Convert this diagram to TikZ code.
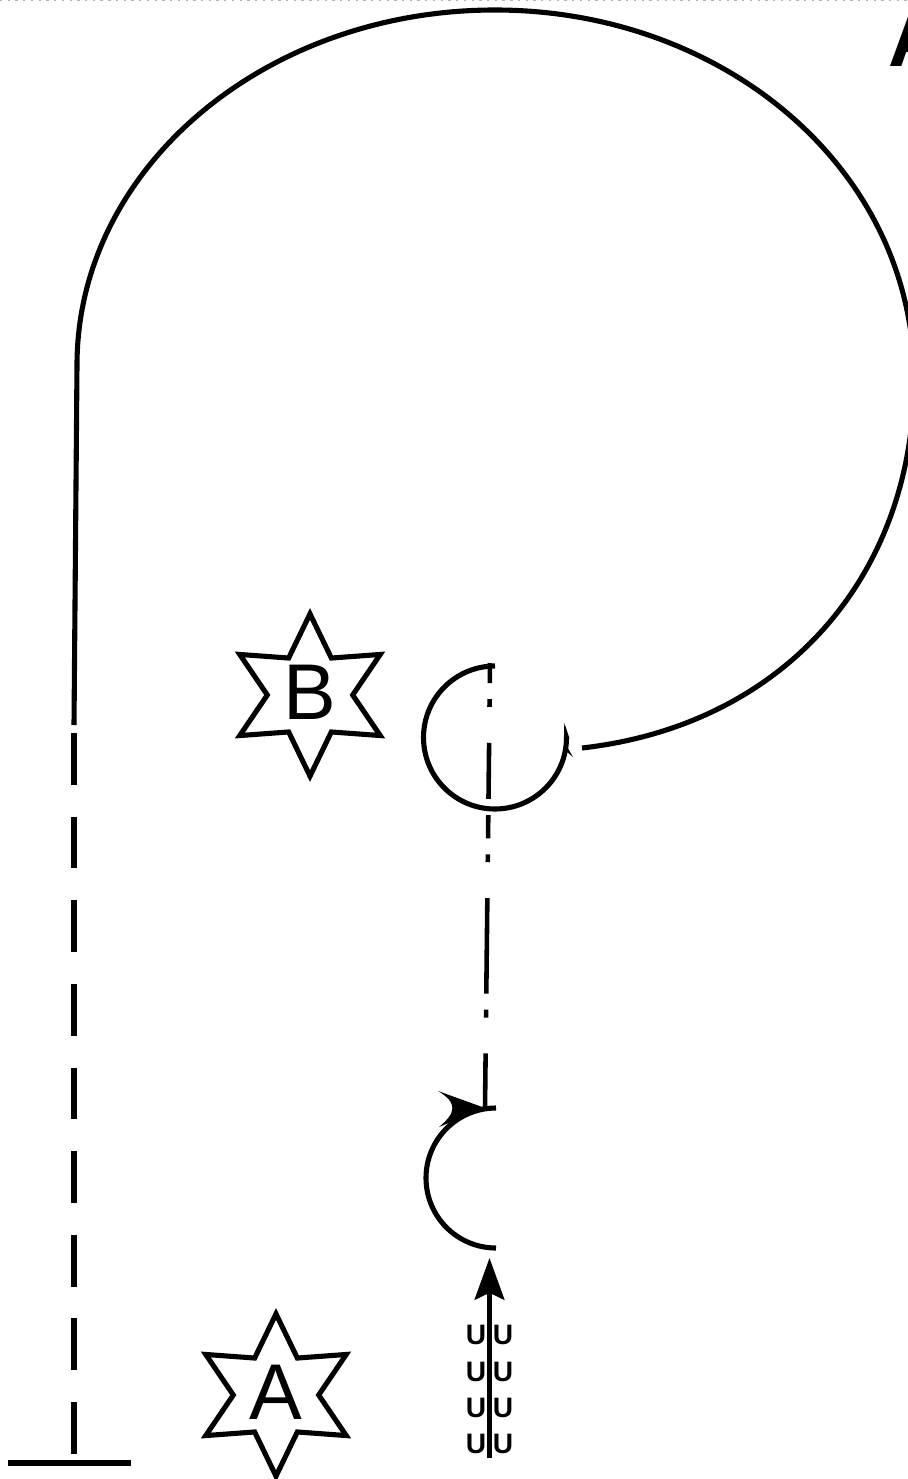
\documentclass[tikz,border=0pt]{standalone}
\usepackage{fontspec}
\setmainfont{Liberation Sans}
\usetikzlibrary{arrows.meta,shapes.geometric}
\tikzset{
  wire/.style={black, line width=2.9pt},
  gnd/.style={black, line width=3pt},
  dashwire/.style={wire, dash pattern=on 29.5pt off 18.1pt},
  dotwire/.style={black, line width=2.6pt, dash pattern=on 54.4pt off 9.1pt on 4.5pt off 20.4pt, dash phase=43pt},
  upstar/.style={star, star points=6, star point ratio=1.9, draw, line width=2.9pt, inner sep=0pt,
                 minimum size=91.8pt, text depth=3.4pt, font=\fontsize{45}{45}\selectfont},
  ulab/.style={inner sep=0pt, font=\bfseries\fontsize{16}{16}\selectfont},
  uparr/.style={-{Stealth[length=23.8pt, width=17pt, inset=4pt]}, line width=2.3pt},
}
\begin{document}
\begin{tikzpicture}[x=0.02cm, y=-0.02cm]
  \useasboundingbox (0,0) rectangle (907,1479);
  \draw[gray!60, line width=0.6pt, dash pattern=on 1.3pt off 3.1pt] (0,0.5) -- (907,0.5);
  % big loop
  \coordinate (loopstart) at (74,725);
  \coordinate (loopend) at (582,748);
  \draw[wire] (loopstart) -- (77,365) .. controls (77,169) and (264,10) .. (495,10)
    .. controls (725,10) and (914,170) .. (914,379)
    .. controls (914,575) and (785,725) .. (loopend);
  \coordinate (dashtop) at (74,733);
  \coordinate (dashbot) at (74,1459);
  \draw[dashwire] (dashtop) -- (dashbot);
  \coordinate (gndl) at (8,1463);
  \coordinate (gndr) at (131,1463);
  \draw[gnd] (gndl) -- (gndr);
  % dash-dot line and the two arcs
  \coordinate (ctop) at (490,663);
  \coordinate (cbot) at (485,1108);
  \draw[dotwire] (ctop) -- (cbot);
  \draw[white, line width=4pt] (489,799) -- (489,815);
  \draw[wire] (495,666) arc[start angle=-90, end angle=-360, radius=71.5] -- (567,739);
  \fill (566,745) -- (573,757) -- (567,752) -- cycle;
  \draw[wire] (496,1108) arc[start angle=-90, end angle=-270, radius=70];
  \fill (cbot) -- (438,1091) .. controls (458,1103) and (456,1113) .. (439,1127) -- cycle;
  % lower arrow with its marks
  \coordinate (arrbot) at (489.5,1458);
  \coordinate (arrtop) at (489.5,1258);
  \draw[uparr] (arrbot) -- (arrtop);
  \foreach \y [count=\i] in {1335,1372,1408,1444} {
    \node[ulab] (ul\i) at (476,\y) {U};
    \node[ulab] (ur\i) at (503,\y) {U};
  }
  % stars
  \node[upstar] (starb) at (310,695) {B};
  \node[upstar] (stara) at (276,1395) {A};
  \node[inner sep=0pt, anchor=south west, font=\bfseries\fontsize{45}{45}\selectfont] (clipa) at (888,67) {A};
\end{tikzpicture}
\end{document}
